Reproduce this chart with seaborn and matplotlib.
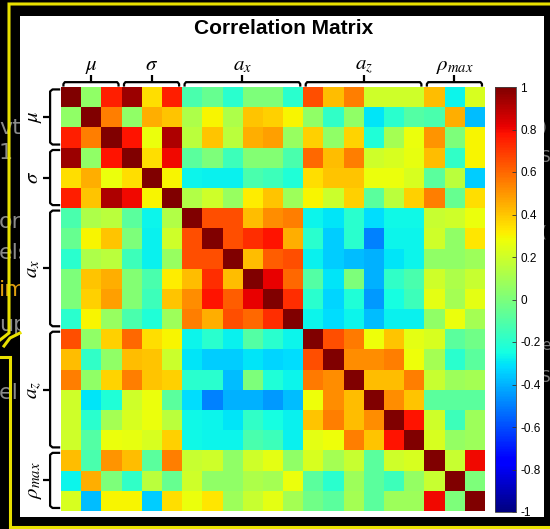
import numpy as np
import pandas as pd
import matplotlib
matplotlib.use("Agg")
import matplotlib.pyplot as plt
import seaborn as sns
from matplotlib.patches import Rectangle
from matplotlib.lines import Line2D

# ---------------- data ----------------
group_labels = [r"$\mu$", r"$\sigma$", r"$a_x$", r"$a_z$", r"$\rho_{max}$"]
group_sizes = [3, 3, 6, 6, 3]
var_names = ["mu1", "mu2", "mu3", "s1", "s2", "s3",
             "ax1", "ax2", "ax3", "ax4", "ax5", "ax6",
             "az1", "az2", "az3", "az4", "az5", "az6",
             "rho1", "rho2", "rho3"]

# upper triangle of the correlation matrix (row i, columns i+1 .. 20)
r00 = [0.05, 0.75, 0.95, 0.35, 0.75, -0.12, -0.05, -0.2, 0.0, 0.0, -0.2, 0.65, 0.42, 0.55, 0.2, 0.2, 0.2, 0.42, -0.27, 0.22]
r01 = [0.55, 0.05, 0.45, 0.4, 0.12, 0.3, 0.12, 0.4, 0.38, 0.3, 0.05, -0.18, 0.05, -0.3, -0.2, -0.1, -0.12, 0.45, -0.38]
r02 = [0.78, 0.27, 0.92, 0.15, 0.4, 0.15, 0.45, 0.48, 0.07, 0.38, 0.05, 0.37, -0.22, 0.1, 0.27, 0.5, 0.0, 0.3]
r03 = [0.35, 0.8, -0.08, 0.0, -0.15, 0.02, 0.02, -0.12, 0.6, 0.42, 0.55, 0.2, 0.22, 0.26, 0.42, -0.18, 0.3]
r04 = [0.3, -0.27, -0.28, -0.28, -0.12, -0.15, -0.22, 0.35, 0.4, 0.4, 0.27, 0.27, 0.22, -0.08, 0.15, -0.35]
r05 = [0.13, 0.2, 0.07, 0.32, 0.4, 0.08, 0.3, 0.19, 0.38, -0.08, 0.15, 0.38, 0.55, -0.05, 0.35]
r06 = [0.65, 0.65, 0.42, 0.52, 0.55, -0.27, -0.3, -0.2, -0.32, -0.26, -0.26, 0.18, 0.2, 0.27]
r07 = [0.65, 0.72, 0.78, 0.45, -0.2, -0.35, -0.2, -0.5, -0.27, -0.27, 0.2, 0.05, 0.33]
r08 = [0.42, 0.62, 0.65, -0.28, -0.35, -0.38, -0.4, -0.3, -0.27, 0.05, 0.05, 0.08]
r09 = [0.82, 0.6, -0.1, -0.3, 0.0, -0.4, -0.18, -0.12, 0.2, 0.12, 0.18]
r10 = [0.72, -0.2, -0.33, -0.22, -0.45, -0.25, -0.15, 0.25, 0.1, 0.25]
r11 = [-0.27, -0.32, -0.27, -0.38, -0.28, -0.28, 0.05, 0.27, 0.1]
r12 = [0.65, 0.56, 0.28, 0.4, 0.25, 0.22, -0.08, -0.03]
r13 = [0.52, 0.52, 0.55, 0.28, 0.1, -0.2, -0.08]
r14 = [0.42, 0.42, 0.55, 0.18, 0.08, 0.1]
r15 = [0.52, 0.4, -0.08, -0.08, -0.08]
r16 = [0.78, 0.2, -0.15, 0.08]
r17 = [0.22, 0.06, 0.08]
r18 = [0.18, 0.8]
r19 = [0.0]
upper_rows = [r00, r01, r02, r03, r04, r05, r06, r07, r08, r09,
              r10, r11, r12, r13, r14, r15, r16, r17, r18, r19]

cbar_ticks = [1, 0.8, 0.6, 0.4, 0.2, 0, -0.2, -0.4, -0.6, -0.8, -1]
cbar_ticklabels = ["1", "0.8", "0.6", "0.4", "0.2", "0", "-0.2", "-0.4", "-0.6", "-0.8", "-1"]

title_text = "Correlation Matrix"

# faint slide text peeking out behind the white chart panel
bg_texts = ["vt", "1 s", "or", "els", "im", "up", "el"]
bg_colors = ["#8a8a8a", "#8a8a8a", "#8a8a8a", "#8a8a8a", "#e0a010", "#8a8a8a", "#8a8a8a"]
bg_y = [128, 153, 222, 253, 290, 325, 393]
bg_right_texts = [")", "S", "(", "e", "S"]
bg_right_y = [127, 158, 232, 345, 378]

# ---------------- build matrix ----------------
n = len(var_names)
mat = np.eye(n)
for i, row in enumerate(upper_rows):
    for k, v in enumerate(row):
        j = i + 1 + k
        mat[i, j] = v
        mat[j, i] = v
df = pd.DataFrame(mat, index=var_names, columns=var_names)

# ---------------- figure ----------------
W, H = 550, 529
fig = plt.figure(figsize=(W / 100, H / 100), dpi=100, facecolor="black")


def fx(x):
    return x / W


def fy(y):
    return 1 - y / H


# background slide text
for t, c, y in zip(bg_texts, bg_colors, bg_y):
    fig.text(fx(-1), fy(y), t, color=c, fontsize=16, family="DejaVu Sans",
             va="center", ha="left", zorder=0.5)
for t, y in zip(bg_right_texts, bg_right_y):
    fig.text(fx(541), fy(y), t, color="#7a7a7a", fontsize=11, family="DejaVu Sans",
             va="center", ha="left", zorder=0.5)

# white chart panel
fig.patches.append(Rectangle((fx(20), fy(517)), (544 - 20) / W, (517 - 16) / H,
                             transform=fig.transFigure, facecolor="white",
                             edgecolor="none", zorder=1))

# yellow slide frame lines
yl = "#e8e000"
for pts in ([(550, 4), (9, 4), (9, 333), (0, 340)],
            [(0, 357), (10, 357), (10, 527), (550, 527)],
            [(4, 346), (10, 338), (20, 333)]):
    xs = [fx(p[0]) for p in pts]
    ys = [fy(p[1]) for p in pts]
    fig.lines.append(Line2D(xs, ys, transform=fig.transFigure, color=yl,
                            lw=2.2, zorder=1.5, solid_joinstyle="miter"))

# axes
ax = fig.add_axes([fx(61), fy(511), 424 / W, 424 / H])
cax = fig.add_axes([fx(495), fy(512), 21 / W, 425 / H])
ax.set_zorder(3)
cax.set_zorder(3)

sns.heatmap(df, ax=ax, cbar_ax=cax, cmap="jet", vmin=-1, vmax=1,
            xticklabels=False, yticklabels=False, linewidths=0,
            cbar_kws={"ticks": cbar_ticks})

cax.set_yticks(cbar_ticks)
cax.set_yticklabels(cbar_ticklabels, family="Liberation Sans", fontsize=8.5)
cax.tick_params(axis="y", direction="in", length=3, width=0.6, pad=3,
                color="#333333", right=True, left=False)
cb = ax.collections[0].colorbar
cb.outline.set_linewidth(0.6)
cb.outline.set_edgecolor("#444444")

# title
fig.text(fx(284), fy(28), title_text, ha="center", va="center",
         family="Liberation Sans", fontweight="bold", fontsize=15, zorder=4)

# group brackets
plt.rcParams["mathtext.fontset"] = "stix"
starts = np.concatenate([[0], np.cumsum(group_sizes)[:-1]])
ends = np.cumsum(group_sizes)
blw = 1.6
for lab, s, e in zip(group_labels, starts, ends):
    a0, a1 = s + 0.12, e - 0.15
    am = (a0 + a1) / 2
    # top bracket
    ax.plot([a0, a0, a0 + 0.07, a1 - 0.07, a1, a1],
            [-0.02, -0.15, -0.24, -0.24, -0.15, -0.02],
            color="black", lw=blw, clip_on=False, solid_capstyle="butt")
    ax.plot([am, am], [-0.24, -0.57], color="black", lw=blw, clip_on=False,
            solid_capstyle="butt")
    ax.text(am, -0.85, lab, ha="center", va="baseline", fontsize=15,
            clip_on=False)
    # left bracket
    ax.plot([-0.04, -0.42, -0.54, -0.54, -0.42, -0.04],
            [a0, a0, a0 + 0.1, a1 - 0.1, a1, a1],
            color="black", lw=blw, clip_on=False, solid_capstyle="butt")
    ax.plot([-0.54, -0.9], [am, am], color="black", lw=blw, clip_on=False,
            solid_capstyle="butt")
    ax.text(-1.15, am, lab, ha="center", va="baseline", rotation=90,
            rotation_mode="anchor", fontsize=15, clip_on=False)

fig.savefig("out.png", dpi=100, facecolor="black")
